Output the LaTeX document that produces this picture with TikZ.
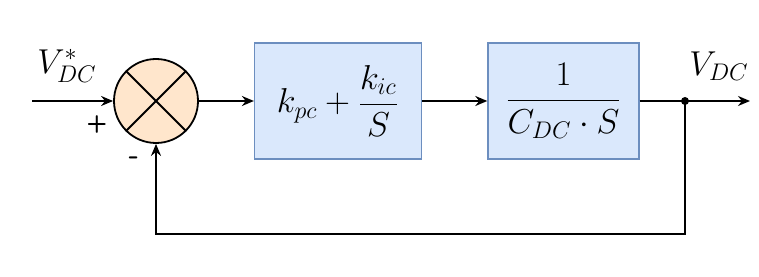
\documentclass[tikz,border=0pt]{standalone}
\usepackage{amsmath}
\usetikzlibrary{positioning,arrows.meta}
\definecolor{sumfill}{HTML}{FFE6CC}
\definecolor{blockfill}{HTML}{DAE8FC}
\definecolor{blockline}{HTML}{6C8EBF}
\begin{document}
\begin{tikzpicture}[x=0.5pt, y=-0.5pt, line width=0.9pt, >={Stealth[length=6pt,width=5pt]},
    sum/.style = {draw, circle, fill=sumfill, minimum size=42pt, inner sep=0pt},
    block/.style = {draw=blockline, fill=blockfill, minimum height=58pt, line width=0.7pt},
    lbl/.style = {font=\LARGE},
    sign/.style = {font=\sffamily\bfseries\large, inner sep=0pt}]
    \useasboundingbox (0,0) rectangle (759,277);
    \node[sum] (sum) at (156,101) {};
    \draw (sum.45) -- (sum.225);
    \draw (sum.135) -- (sum.315);
    \node[block, minimum width=83.5pt, right=27.5pt of sum, lbl] (pi) {$k_{pc}+\dfrac{k_{ic}}{S}$};
    \node[block, minimum width=75.5pt, right=32.5pt of pi, lbl] (plant) {$\dfrac{1}{C_{DC}\cdot S}$};
    \coordinate (in) at (32,101);
    \coordinate (branch) at (685,101);
    \coordinate (out) at (750,101);
    \coordinate (fb) at (685,234);
    \node[lbl] (vref) at (67,66) {$V_{DC}^{*}$};
    \node[lbl] (vout) at (719,66) {$V_{DC}$};
    \node[sign] (plus) at (97,125) {+};
    \node[sign, font=\sffamily\bfseries\Large] (minus) at (134,161) {-};
    % signal path
    \draw[->] (in) -- (sum);
    \draw[->] (sum) -- (pi);
    \draw[->] (pi) -- (plant);
    \draw (plant) -- (branch);
    \draw[->] (branch) -- (out);
    \fill (branch) circle (2pt);
    % feedback
    \draw[->] (branch) -- (fb) -| (sum);
\end{tikzpicture}
\end{document}
